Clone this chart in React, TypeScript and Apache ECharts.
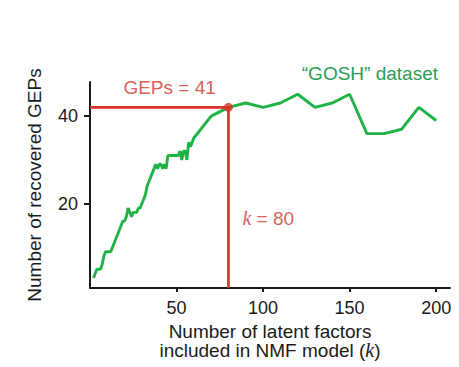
import React, { useEffect, useRef } from "react";
import * as echarts from "echarts";

// ---- data ----
const kValues = [
  2, 3, 4, 5, 6, 7, 8, 9, 10, 11, 12, 13, 14, 15, 16, 17, 18, 19, 20, 21,
  22, 23, 24, 25, 26, 27, 28, 29, 30, 31, 32, 33, 34, 35, 36, 37, 38, 39, 40, 41,
  42, 43, 44, 45, 46, 47, 48, 49, 50, 51, 52, 53, 54, 55, 56, 57, 58, 59, 60,
  70, 80, 90, 100, 110, 120, 130, 140, 150, 160, 170, 180, 190, 200,
];
const gepValues = [
  3, 4, 5, 5, 5, 6, 8, 9, 9, 9, 9, 10, 11, 12, 13, 14, 15, 16, 16, 17,
  19, 18, 17, 18, 18, 18, 19, 19, 20, 21, 22, 24, 25, 26, 27, 28, 29, 28, 29, 29,
  28, 29, 28, 31, 31, 31, 31, 31, 31, 31, 32, 30, 32, 32, 30, 34, 33, 34, 35,
  40, 42, 43, 42, 43, 45, 42, 43, 45, 36, 36, 37, 42, 39,
];
const xTickValues = [50, 100, 150, 200];
const yTickValues = [20, 40];
const selectedK = 80;
const selectedGepsLevel = 42;
const gepsLabelText = "GEPs = 41";
const kLabelText = "80";
const datasetLabel = "\u201cGOSH\u201d dataset";

const xMin = 0;
const xMax = 208;
const yMin = 0.7;
const yMax = 47.8;

const SANS = "'Liberation Sans', Arial, Helvetica, sans-serif";
const SERIF = "'Liberation Serif', 'Times New Roman', serif";
const GREEN = "#1fb346";
const GREEN_TEXT = "#2a9d52";
const RED = "#d8322b";
const RED_TEXT = "#cc342d";
const INK = "#1a1a1a";

export default function App() {
  const ref = useRef<HTMLDivElement>(null);

  useEffect(() => {
    if (!ref.current) return;
    const chart = echarts.init(ref.current, undefined, { renderer: "svg" });

    const lineData = kValues.map((k, i) => [k, gepValues[i]]);

    chart.setOption({
      animation: false,
      backgroundColor: "#ffffff",
      grid: { left: 90, right: 9, top: 82, bottom: 79 },
      xAxis: {
        type: "value",
        min: xMin,
        max: xMax,
        splitLine: { show: false },
        axisLine: { show: true, onZero: false, lineStyle: { color: INK, width: 2 } },
        axisTick: {
          show: true,
          length: 4,
          lineStyle: { color: INK, width: 2 },
          customValues: xTickValues,
        },
        axisLabel: {
          show: true,
          margin: 11,
          fontSize: 18,
          fontFamily: SANS,
          color: INK,
          customValues: xTickValues,
        },
        name: "Number of latent factors\nincluded in NMF model ({i|k})",
        nameLocation: "middle",
        nameGap: 30,
        nameTextStyle: {
          fontSize: 19,
          lineHeight: 19,
          fontFamily: SANS,
          color: INK,
          rich: {
            i: {
              fontFamily: SERIF,
              fontStyle: "italic",
              fontSize: 20,
              lineHeight: 19,
              color: INK,
            },
          },
        },
      },
      yAxis: {
        type: "value",
        min: yMin,
        max: yMax,
        splitLine: { show: false },
        axisLine: { show: true, lineStyle: { color: INK, width: 2 } },
        axisTick: {
          show: true,
          length: 6,
          lineStyle: { color: INK, width: 2 },
          customValues: yTickValues,
        },
        axisLabel: {
          show: true,
          margin: 12,
          fontSize: 18,
          fontFamily: SANS,
          color: INK,
          customValues: yTickValues,
        },
        name: "Number of recovered GEPs",
        nameLocation: "middle",
        nameGap: 46,
        nameTextStyle: { fontSize: 19, fontFamily: SANS, color: INK },
      },
      series: [
        {
          type: "line",
          data: lineData,
          showSymbol: false,
          symbol: "none",
          lineStyle: { color: GREEN, width: 2.9 },
          z: 2,
        },
        {
          type: "line",
          data: [
            [xMin, selectedGepsLevel],
            [selectedK, selectedGepsLevel],
            [selectedK, yMin],
          ],
          showSymbol: false,
          symbol: "none",
          lineStyle: { color: RED, width: 2.7 },
          z: 3,
        },
        {
          type: "scatter",
          data: [[selectedK, selectedGepsLevel]],
          symbol: "circle",
          symbolSize: 9,
          itemStyle: { color: RED },
          z: 4,
        },
        {
          type: "scatter",
          clip: false,
          symbolSize: 0,
          silent: true,
          data: [
            {
              value: [46, selectedGepsLevel],
              label: {
                show: true,
                position: "inside",
                offset: [0, -19.5],
                formatter: gepsLabelText,
                fontSize: 19,
                fontFamily: SANS,
                color: RED_TEXT,
              },
            },
            {
              value: [selectedK, 16.7],
              label: {
                show: true,
                position: "right",
                distance: 14,
                formatter: "{i|k} = " + kLabelText,
                fontSize: 19,
                fontFamily: SANS,
                color: RED_TEXT,
                rich: {
                  i: {
                    fontFamily: SERIF,
                    fontStyle: "italic",
                    fontSize: 20,
                    color: RED_TEXT,
                  },
                },
              },
            },
          ],
          z: 5,
        },
      ],
      graphic: [
        {
          type: "text",
          right: 21,
          top: 64,
          style: {
            text: datasetLabel,
            fontSize: 19,
            fontFamily: SANS,
            fill: GREEN_TEXT,
          },
        },
      ],
    });

    return () => chart.dispose();
  }, []);

  return (
    <div
      ref={ref}
      style={{ position: "fixed", left: 0, top: 0, width: 459, height: 367, background: "#fff" }}
    />
  );
}
